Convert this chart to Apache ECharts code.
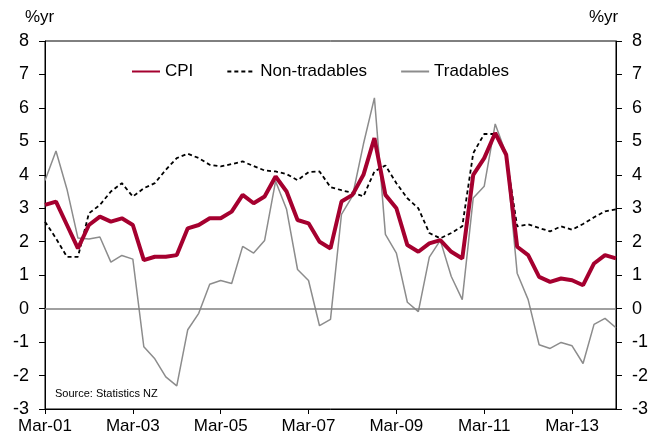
<!DOCTYPE html>
<html>
<head>
<meta charset="utf-8">
<script src="https://cdn.jsdelivr.net/npm/echarts@6/dist/echarts.min.js"></script>
<style>
  html, body { margin: 0; padding: 0; background: #fff; }
  #chart { width: 651px; height: 437px; }
</style>
</head>
<body>
<div id="chart"></div>
<script>
// quarters Mar-01 .. Mar-14
var quarters = [
  "Mar-01","Jun-01","Sep-01","Dec-01","Mar-02","Jun-02","Sep-02","Dec-02",
  "Mar-03","Jun-03","Sep-03","Dec-03","Mar-04","Jun-04","Sep-04","Dec-04",
  "Mar-05","Jun-05","Sep-05","Dec-05","Mar-06","Jun-06","Sep-06","Dec-06",
  "Mar-07","Jun-07","Sep-07","Dec-07","Mar-08","Jun-08","Sep-08","Dec-08",
  "Mar-09","Jun-09","Sep-09","Dec-09","Mar-10","Jun-10","Sep-10","Dec-10",
  "Mar-11","Jun-11","Sep-11","Dec-11","Mar-12","Jun-12","Sep-12","Dec-12",
  "Mar-13","Jun-13","Sep-13","Dec-13","Mar-14"
];

var cpi = [
  3.1, 3.2, 2.5, 1.8, 2.5, 2.75, 2.6, 2.7,
  2.5, 1.45, 1.55, 1.55, 1.6, 2.4, 2.5, 2.7,
  2.7, 2.9, 3.4, 3.15, 3.35, 3.95, 3.5, 2.65,
  2.55, 2.0, 1.8, 3.2, 3.4, 4.0, 5.1, 3.4,
  3.0, 1.9, 1.7, 1.95, 2.05, 1.7, 1.5, 4.0,
  4.5, 5.25, 4.6, 1.85, 1.6, 0.95, 0.8, 0.9,
  0.85, 0.7, 1.35, 1.6, 1.5
];

var nonTradables = [
  2.6, 2.1, 1.55, 1.55, 2.85, 3.1, 3.5, 3.75,
  3.35, 3.6, 3.75, 4.15, 4.5, 4.63, 4.5, 4.3,
  4.25, 4.32, 4.4, 4.26, 4.13, 4.1, 4.02, 3.84,
  4.08, 4.1, 3.63, 3.54, 3.46, 3.36, 4.1, 4.28,
  3.75, 3.3, 3.0, 2.26, 2.1, 2.26, 2.46, 4.65,
  5.22, 5.22, 4.56, 2.46, 2.52, 2.41, 2.31, 2.46,
  2.36, 2.53, 2.73, 2.91, 2.97
];

var tradables = [
  3.83, 4.71, 3.57, 2.11, 2.08, 2.14, 1.39, 1.59,
  1.48, -1.14, -1.5, -2.04, -2.31, -0.63, -0.14, 0.73,
  0.84, 0.75, 1.86, 1.66, 2.04, 3.81, 2.97, 1.17,
  0.84, -0.51, -0.32, 2.82, 3.36, 4.92, 6.3, 2.22,
  1.66, 0.19, -0.09, 1.54, 2.04, 0.96, 0.27, 3.31,
  3.66, 5.52, 4.62, 1.06, 0.27, -1.08, -1.19, -1.01,
  -1.11, -1.64, -0.47, -0.29, -0.57
];

var myChart = echarts.init(document.getElementById('chart'));

var fontFam = 'Liberation Sans, Arial, sans-serif';

var option = {
  animation: false,
  textStyle: { fontFamily: fontFam, color: '#000' },
  grid: {
    left: 45, right: 35, top: 41, bottom: 28,
    show: true, borderColor: '#000', borderWidth: 1
  },
  legend: {
    top: 58, left: 126,
    itemWidth: 28, itemHeight: 14, itemGap: 33,
    itemStyle: { opacity: 0 },
    textStyle: { fontSize: 17, color: '#000', fontFamily: fontFam },
    data: ['CPI', 'Non-tradables', 'Tradables']
  },
  graphic: [
    { type: 'text', left: 25, top: 9, style: { text: '%yr', fontSize: 17, fontFamily: fontFam, fill: '#000' } },
    { type: 'text', left: 589, top: 9, style: { text: '%yr', fontSize: 17, fontFamily: fontFam, fill: '#000' } },
    { type: 'text', left: 55, top: 388, style: { text: 'Source: Statistics NZ', fontSize: 11, fontFamily: fontFam, fill: '#000' } }
  ],
  xAxis: {
    type: 'category',
    data: quarters,
    boundaryGap: false,
    axisLine: { onZero: false, lineStyle: { color: '#000', width: 1 } },
    axisTick: { show: true, interval: 7, length: 5, lineStyle: { color: '#000' } },
    axisLabel: { interval: 7, fontSize: 17, color: '#000', margin: 9, fontFamily: fontFam },
    splitLine: { show: false }
  },
  yAxis: [
    {
      type: 'value', min: -3, max: 8, interval: 1, position: 'left',
      axisLine: { show: true, lineStyle: { color: '#000', width: 1 } },
      axisTick: { show: true, length: 6, lineStyle: { color: '#000' } },
      axisLabel: { fontSize: 18, color: '#000', margin: 16, fontFamily: fontFam },
      splitLine: { show: false }
    },
    {
      type: 'value', min: -3, max: 8, interval: 1, position: 'right',
      axisLine: { show: true, lineStyle: { color: '#000', width: 1 } },
      axisTick: { show: true, length: 6, lineStyle: { color: '#000' } },
      axisLabel: { fontSize: 18, color: '#000', margin: 16, fontFamily: fontFam },
      splitLine: { show: false }
    }
  ],
  series: [
    {
      name: 'Tradables', type: 'line', data: tradables,
      symbol: 'none', z: 2,
      lineStyle: { color: '#8c8c8c', width: 1.5 },
      itemStyle: { color: '#8c8c8c' },
      markLine: {
        silent: true, symbol: 'none', label: { show: false },
        lineStyle: { color: '#808080', width: 1.5, type: 'solid' },
        data: [{ yAxis: 0 }]
      }
    },
    {
      name: 'Non-tradables', type: 'line', data: nonTradables,
      symbol: 'none', z: 3,
      lineStyle: { color: '#000', width: 1.8, type: [4, 3] },
      itemStyle: { color: '#000' }
    },
    {
      name: 'CPI', type: 'line', data: cpi,
      symbol: 'none', z: 4,
      lineStyle: { color: '#a5002f', width: 4 },
      itemStyle: { color: '#a5002f' }
    }
  ]
};

myChart.setOption(option);
window.addEventListener('resize', function () {
  myChart.resize();
});
</script>
</body>
</html>
